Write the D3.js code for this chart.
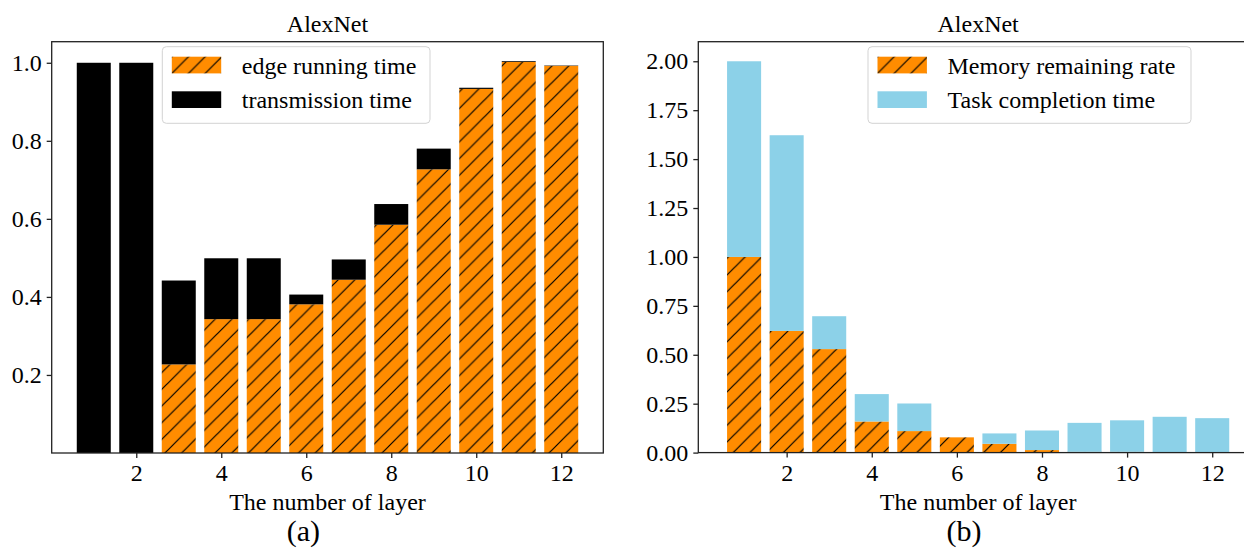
<!DOCTYPE html>
<html>
<head>
<meta charset="utf-8">
<script src="https://cdn.jsdelivr.net/npm/d3@7"></script>
<style>
  body { margin: 0; background: #fff; }
  text { font-family: "Liberation Serif", "Times New Roman", serif; fill: #000; }
</style>
</head>
<body>
<script>
// layers 1..12
var layers = [1, 2, 3, 4, 5, 6, 7, 8, 9, 10, 11, 12]
// (a) stacked: edge running time (bottom) + transmission time (top)
var edgeRunning = [0, 0, 0.227, 0.343, 0.343, 0.381, 0.444, 0.585, 0.727, 0.933, 1.002, 0.992]
var transmission = [1.0, 1.0, 0.215, 0.156, 0.156, 0.025, 0.052, 0.053, 0.053, 0.003, 0.002, 0.001]
// (b) stacked: memory remaining rate (bottom) + task completion time (top)
var memoryRemaining = [1.0, 0.622, 0.529, 0.159, 0.110, 0.078, 0.045, 0.013, 0.004, 0.004, 0, 0]
var taskCompletion = [1.0, 1.0, 0.168, 0.140, 0.141, 0, 0.053, 0.100, 0.148, 0.161, 0.183, 0.176]

var xTicks = [2, 4, 6, 8, 10, 12]
var leftYTicks = [0.2, 0.4, 0.6, 0.8, 1.0]
var rightYTicks = [0, 0.25, 0.5, 0.75, 1.0, 1.25, 1.5, 1.75, 2.0]

var orange = "#ff8c00", sky = "#8cd1e8", axisColor = "#222"
var serif = "'Liberation Serif', 'Times New Roman', serif"

var svg = d3.select("body").append("svg")
            .attr("width", 1244)
            .attr("height", 550)

// hatch pattern "//"
var P = 16.7
var pat = svg.append("defs").append("pattern")
             .attr("id", "hatch")
             .attr("patternUnits", "userSpaceOnUse")
             .attr("width", P)
             .attr("height", P)
pat.append("rect").attr("width", P).attr("height", P).attr("fill", orange)
pat.append("path")
   .attr("d", "M0," + P + "L" + P + ",0M" + (-P / 2) + "," + (P / 2) + "L" + (P / 2) + "," + (-P / 2) +
              "M" + (P / 2) + "," + (P * 1.5) + "L" + (P * 1.5) + "," + (P / 2))
   .attr("stroke", "#000")
   .attr("stroke-width", 1.2)

var panel = function(cfg)
{
  var x = d3.scaleLinear().domain(cfg.xDomain).range(cfg.xRange)
  var y = d3.scaleLinear().domain(cfg.yDomain).range([cfg.bottom, cfg.top])
  var g = svg.append("g")
  var bw = x(0.8) - x(0)

  // bottom series
  g.append("g").selectAll("rect")
   .data(layers)
   .enter().append("rect")
   .attr("x", function(d) { return x(d) - bw / 2 })
   .attr("width", bw)
   .attr("y", function(d, i) { return y(cfg.lower[i]) })
   .attr("height", function(d, i) { return y(0) - y(cfg.lower[i]) })
   .attr("fill", "url(#hatch)")
  // top series, stacked
  g.append("g").selectAll("rect")
   .data(layers)
   .enter().append("rect")
   .attr("x", function(d) { return x(d) - bw / 2 })
   .attr("width", bw)
   .attr("y", function(d, i) { return y(cfg.lower[i] + cfg.upper[i]) })
   .attr("height", function(d, i) { return y(cfg.lower[i]) - y(cfg.lower[i] + cfg.upper[i]) })
   .attr("fill", cfg.upperColor)

  // axes
  var xAxis = g.append("g")
               .attr("transform", "translate(0," + cfg.bottom + ")")
               .call(d3.axisBottom(x).tickValues(xTicks).tickSize(5).tickPadding(6).tickFormat(d3.format("d")))
  var yAxis = g.append("g")
               .attr("transform", "translate(" + cfg.xRange[0] + ",0)")
               .call(d3.axisLeft(y).tickValues(cfg.yTicks).tickSize(5).tickPadding(5).tickFormat(d3.format(cfg.yFormat)))
  ;[xAxis, yAxis].forEach(function(a) {
    a.attr("font-family", serif).attr("font-size", 24)
    a.select(".domain").remove()
    a.selectAll("line").attr("stroke", axisColor).attr("stroke-width", 1.3)
    a.selectAll("text").style("font-family", serif).style("font-size", "24px").attr("fill", "#000")
  })

  // frame
  g.append("rect")
   .attr("x", cfg.xRange[0])
   .attr("y", cfg.top)
   .attr("width", cfg.xRange[1] - cfg.xRange[0])
   .attr("height", cfg.bottom - cfg.top)
   .attr("fill", "none")
   .attr("stroke", axisColor)
   .attr("stroke-width", 1.3)

  var cx = (cfg.xRange[0] + cfg.xRange[1]) / 2
  g.append("text").attr("x", cx).attr("y", 32).attr("text-anchor", "middle")
   .style("font-size", "24px").text("AlexNet")
  g.append("text").attr("x", cx).attr("y", 510).attr("text-anchor", "middle")
   .style("font-size", "24px").text("The number of layer")
  g.append("text").attr("x", cfg.panelX).attr("y", 541).attr("text-anchor", "middle")
   .style("font-size", "30px").text(cfg.panel)

  // legend
  var lg = g.append("g").attr("transform", "translate(" + cfg.legendX + ",46.7)")
  lg.append("rect")
    .attr("width", cfg.legendW)
    .attr("height", 76.6)
    .attr("rx", 4)
    .attr("fill", "#fff")
    .attr("fill-opacity", 0.8)
    .attr("stroke", "#d3d3d3")
  var items = [{name: cfg.lowerName, fill: "url(#hatch)"}, {name: cfg.upperName, fill: cfg.upperColor}]
  var rows = lg.selectAll("g.legendLine")
               .data(items)
               .enter().append("g")
               .classed("legendLine", true)
               .attr("transform", function(d, i) { return "translate(9.5," + (10 + i * 34.6) + ")" })
  rows.append("rect").attr("width", 49.4).attr("height", 16.7).attr("fill", function(d) { return d.fill })
  rows.append("text").attr("x", 70).attr("y", 17).style("font-size", "24px").text(function(d) { return d.name })
}

panel({
  xDomain: [0.01, 12.99], xRange: [51.7, 603.3],
  yDomain: [0, 1.054], top: 41.7, bottom: 453,
  yTicks: leftYTicks, yFormat: ".1f",
  lower: edgeRunning, upper: transmission, upperColor: "#000",
  lowerName: "edge running time", upperName: "transmission time",
  legendX: 162.3, legendW: 267.7, panel: "(a)", panelX: 303.3
})
panel({
  xDomain: [-0.076, 13.076], xRange: [698.3, 1258],
  yDomain: [0, 2.1], top: 41.7, bottom: 452.6,
  yTicks: rightYTicks, yFormat: ".2f",
  lower: memoryRemaining, upper: taskCompletion, upperColor: sky,
  lowerName: "Memory remaining rate", upperName: "Task completion time",
  legendX: 868, legendW: 323, panel: "(b)", panelX: 964
})
</script>
</body>
</html>
